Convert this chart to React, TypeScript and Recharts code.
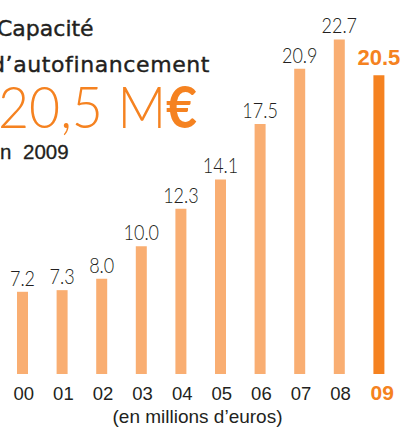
import { Bar, BarChart, Cell, LabelList, XAxis, YAxis } from 'recharts';

const YEARS = ['00', '01', '02', '03', '04', '05', '06', '07', '08', '09'];
const CAF_VALUES = [7.2, 7.3, 8.0, 10.0, 12.3, 14.1, 17.5, 20.9, 22.7, 20.5];
const HIGHLIGHT_YEAR = '09';

const TITLE_LINES = ['Capacité', 'd’autofinancement'];
const HEADLINE = '20,5 M';
const HEADLINE_UNIT = '€';
const SUBTITLE = 'en 2009';
const UNIT_NOTE = '(en millions d’euros)';

const ORANGE = '#f58220';
const LIGHT_ORANGE = '#f9ae72';
const DARK = '#231f20';
const LIGHT_FONT = 'Lato, "Liberation Sans Narrow", sans-serif';
const SANS = '"Liberation Sans", Arial, sans-serif';

const data = YEARS.map((year, i) => ({ year, caf: CAF_VALUES[i] }));

function renderValueLabel(props: any) {
  const { x, y, width, value, index } = props;
  const cx = Number(x) + Number(width) / 2;
  const highlight = YEARS[index] === HIGHLIGHT_YEAR;
  if (highlight) {
    return (
      <text
        x={cx}
        y={Number(y) - 10}
        textAnchor="middle"
        fill={ORANGE}
        fontFamily={SANS}
        fontWeight={700}
        fontSize={22}
      >
        {Number(value).toFixed(1)}
      </text>
    );
  }
  return (
    <text
      transform={`translate(${cx},${Number(y) - 6}) scale(0.8,1)`}
      textAnchor="middle"
      fill={DARK}
      fontFamily={LIGHT_FONT}
      fontWeight={300}
      fontSize={22.5}
    >
      {Number(value).toFixed(1)}
    </text>
  );
}

function YearTick(props: any) {
  const { x, y, payload } = props;
  const highlight = payload.value === HIGHLIGHT_YEAR;
  return (
    <text
      x={x + (highlight ? 3 : 1)}
      y={y + 26}
      textAnchor="middle"
      fill={highlight ? ORANGE : DARK}
      fontFamily={SANS}
      fontWeight={highlight ? 700 : 400}
      fontSize={highlight ? 21 : 18.5}
    >
      {payload.value}
    </text>
  );
}

export default function App() {
  return (
    <div
      style={{
        position: 'absolute',
        left: 0,
        top: 0,
        width: 401,
        height: 428,
        overflow: 'hidden',
        background: '#fff',
      }}
    >
      <BarChart
        width={401}
        height={428}
        data={data}
        margin={{ top: 2, right: 2, bottom: 24, left: 3 }}
        barCategoryGap={0}
      >
        <XAxis
          dataKey="year"
          height={30}
          axisLine={false}
          tickLine={false}
          tickSize={0}
          tickMargin={0}
          interval={0}
          tick={<YearTick />}
        />
        <YAxis hide domain={[2.15, 25]} allowDataOverflow />
        <Bar dataKey="caf" barSize={11} isAnimationActive={false}>
          {data.map((d) => (
            <Cell key={d.year} fill={d.year === HIGHLIGHT_YEAR ? ORANGE : LIGHT_ORANGE} />
          ))}
          <LabelList dataKey="caf" content={renderValueLabel} />
        </Bar>
      </BarChart>

      <svg
        width={401}
        height={428}
        style={{ position: 'absolute', left: 0, top: 0, pointerEvents: 'none' }}
      >
        <text
          x={-3}
          y={36}
          fill={DARK}
          stroke={DARK}
          strokeWidth={0.4}
          fontFamily='"DejaVu Sans", sans-serif'
          fontSize={22}
        >
          {TITLE_LINES[0]}
        </text>
        <text
          x={-9}
          y={72}
          fill={DARK}
          stroke={DARK}
          strokeWidth={0.4}
          fontFamily='"DejaVu Sans", sans-serif'
          fontSize={22}
          letterSpacing={0.6}
        >
          {TITLE_LINES[1]}
        </text>
        <text
          transform="translate(-2,128) scale(0.94,1)"
          fill={ORANGE}
          fontFamily={LIGHT_FONT}
          fontWeight={300}
          fontSize={57}
        >
          {HEADLINE}
          <tspan fontWeight={700}>{HEADLINE_UNIT}</tspan>
        </text>
        <text
          x={-11.5}
          y={158.5}
          fill={DARK}
          stroke={DARK}
          strokeWidth={0.3}
          fontFamily={SANS}
          fontSize={20.5}
          wordSpacing={6}
        >
          {SUBTITLE}
        </text>
        <text
          x={197.5}
          y={423}
          textAnchor="middle"
          fill={DARK}
          fontFamily={SANS}
          fontSize={19}
        >
          {UNIT_NOTE}
        </text>
      </svg>
    </div>
  );
}
